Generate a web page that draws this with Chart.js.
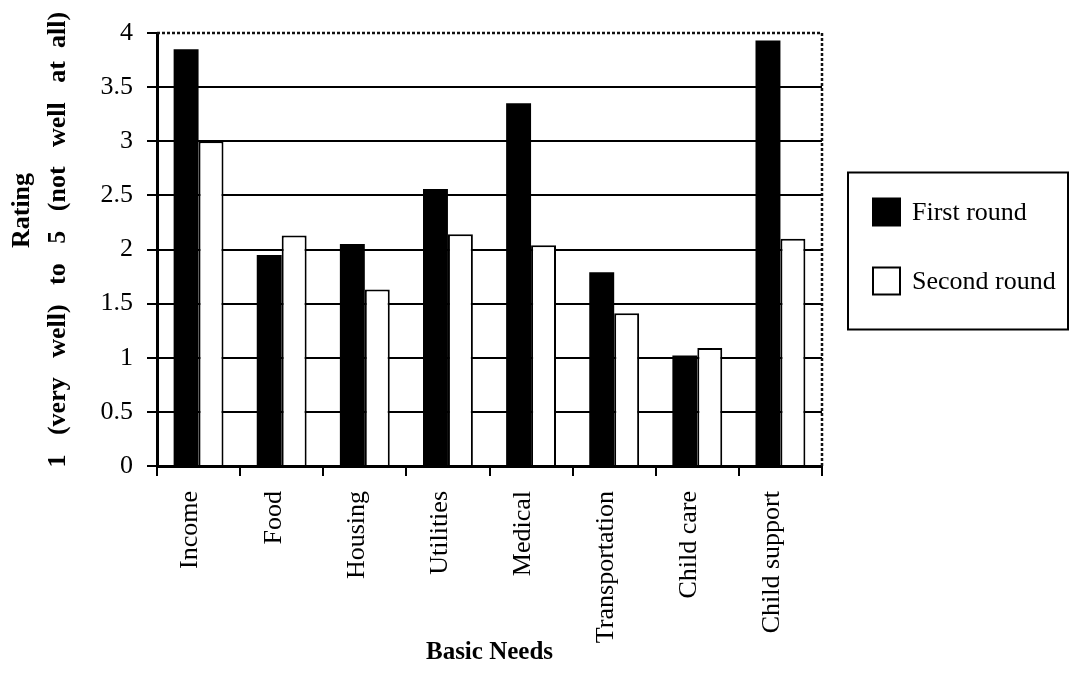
<!DOCTYPE html>
<html>
<head>
<meta charset="utf-8">
<title>Basic Needs</title>
<script src="https://cdn.jsdelivr.net/npm/chart.js@4.4.1/dist/chart.umd.min.js"></script>
<style>
  html, body { margin: 0; padding: 0; background: #fff; }
  #wrap { position: relative; width: 1070px; height: 688px; }
</style>
</head>
<body>
<div id="wrap"><canvas id="needsChart"></canvas></div>
<script>
const categories = ["Income", "Food", "Housing", "Utilities", "Medical", "Transportation", "Child care", "Child support"];
const firstRound = [3.85, 1.95, 2.05, 2.56, 3.35, 1.79, 1.02, 3.93];
const secondRound = [3.0, 2.13, 1.63, 2.14, 2.04, 1.41, 1.09, 2.10];
const seriesNames = ["First round", "Second round"];
const yTicks = [0, 0.5, 1, 1.5, 2, 2.5, 3, 3.5, 4];

const serif = "'Liberation Serif', 'Times New Roman', serif";

// dotted frame on top and right of the plot, like the old Excel output
const frameLines = {
  id: "frameLines",
  afterDatasetsDraw: function(chart) {
    const a = chart.chartArea;
    const ctx = chart.ctx;
    ctx.save();
    ctx.strokeStyle = "#111";
    ctx.lineWidth = 2.5;
    ctx.setLineDash([3, 2]);
    ctx.beginPath();
    ctx.moveTo(a.left, a.top);
    ctx.lineTo(a.right, a.top);
    ctx.lineTo(a.right, a.bottom);
    ctx.stroke();
    ctx.restore();
  }
};

// boxed legend to the right of the plot
const boxLegend = {
  id: "boxLegend",
  afterDraw: function(chart) {
    const a = chart.chartArea;
    const ctx = chart.ctx;
    const left = a.right + 26;
    const mid = (a.top + a.bottom) / 2;
    const top = mid - 77;
    const bottom = mid + 80;
    ctx.save();
    ctx.strokeStyle = "#000";
    ctx.lineWidth = 2;
    ctx.strokeRect(left, top, chart.width - left - 2, bottom - top);

    ctx.font = "26px " + serif;
    ctx.textBaseline = "middle";
    ctx.fillStyle = "#000";
    chart.data.datasets.forEach(function(ds, i) {
      const cy = top + 39 + i * 69;
      const bx = left + 25;
      ctx.fillStyle = ds.backgroundColor;
      ctx.fillRect(bx, cy - 13, 27, 27);
      ctx.strokeStyle = "#000";
      ctx.lineWidth = 2;
      ctx.strokeRect(bx, cy - 13, 27, 27);
      ctx.fillStyle = "#000";
      ctx.fillText(ds.label, bx + 39, cy + 2);
    });
    ctx.restore();
  }
};

const ctx = document.getElementById("needsChart").getContext("2d");

new Chart(ctx, {
  type: "bar",
  data: {
    labels: categories,
    datasets: [
      {
        label: seriesNames[0],
        data: firstRound,
        backgroundColor: "#000",
        borderWidth: 0,
      },
      {
        label: seriesNames[1],
        data: secondRound,
        backgroundColor: "#fff",
        borderColor: "#000",
        borderWidth: 2,
      },
    ],
  },
  options: {
    responsive: true,
    maintainAspectRatio: false,
    animation: false,
    layout: { padding: { left: 0, top: 33, right: 248, bottom: 18 } },
    datasets: {
      bar: { categoryPercentage: 0.6, barPercentage: 1.0 },
    },
    plugins: {
      legend: { display: false },
      tooltip: { enabled: false },
    },
    scales: {
      x: {
        grid: {
          display: true,
          drawOnChartArea: false,
          drawTicks: true,
          tickLength: 10,
          color: "#000",
          lineWidth: 2,
        },
        border: { display: true, color: "#000", width: 3 },
        ticks: {
          color: "#000",
          font: { family: serif, size: 26 },
          minRotation: 90,
          maxRotation: 90,
          padding: 15,
          labelOffset: -8,
          autoSkip: false,
        },
        title: {
          display: true,
          text: "Basic Needs",
          color: "#000",
          font: { family: serif, size: 25, weight: "bold", lineHeight: 1.4 },
          padding: { top: 0, bottom: 0 },
        },
        afterFit: function(scale) {
          scale.height = 204;
        },
      },
      y: {
        min: 0,
        max: 4,
        afterBuildTicks: function(scale) {
          scale.ticks = yTicks.map(function(v) { return { value: v }; });
        },
        grid: {
          drawTicks: true,
          tickLength: 10,
          lineWidth: 2,
          color: function(c) {
            return c.tick && c.tick.value === 4 ? "rgba(0,0,0,0)" : "#000";
          },
          tickColor: "#000",
        },
        border: { display: true, color: "#000", width: 3 },
        ticks: {
          color: "#000",
          font: { family: serif, size: 26 },
          padding: 14,
          callback: function(value) {
            return value;
          },
        },
        title: {
          display: true,
          text: ["            Rating", "   1   (very   well)   to   5   (not   well   at  all)"],
          color: "#000",
          font: { family: serif, size: 26, weight: "bold", lineHeight: 1.4 },
          padding: { top: 4, bottom: 0 },
        },
        afterFit: function(scale) {
          scale.width = 157;
        },
      },
    },
  },
  plugins: [frameLines, boxLegend],
});
</script>
</body>
</html>
